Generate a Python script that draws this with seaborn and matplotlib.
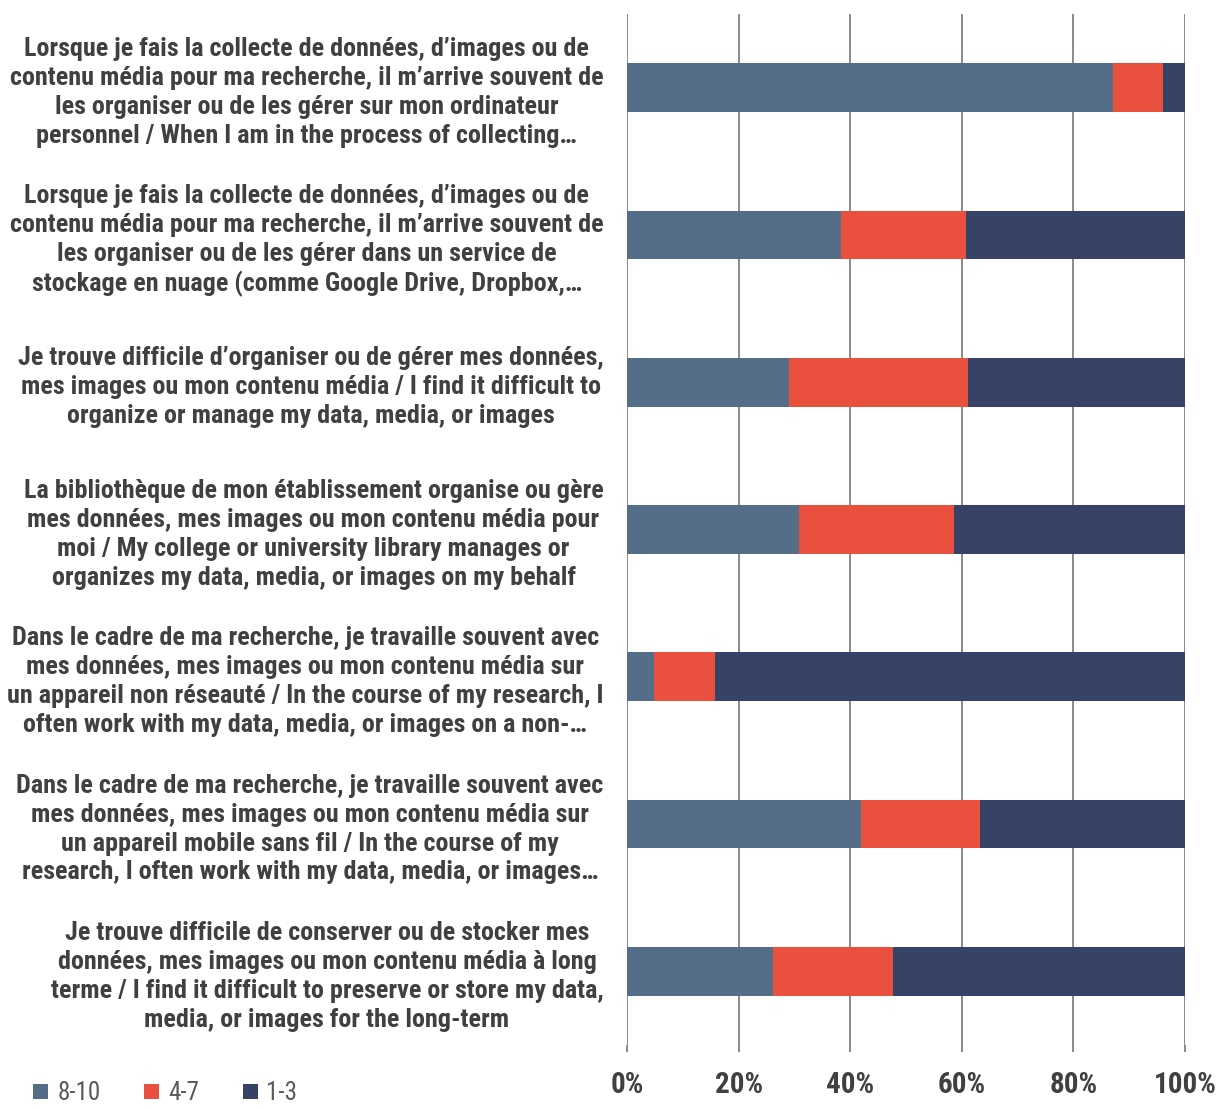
import numpy as np
import pandas as pd
import matplotlib
matplotlib.use("Agg")
import matplotlib.pyplot as plt
import seaborn as sns
from matplotlib.ticker import PercentFormatter
from matplotlib.patches import Patch

# Survey statements (top to bottom)
questions = [
    "Lorsque je fais la collecte de données, d’images ou de\ncontenu média pour ma recherche, il m’arrive souvent de\nles organiser ou de les gérer sur mon ordinateur\npersonnel / When I am in the process of collecting…",
    "Lorsque je fais la collecte de données, d’images ou de\ncontenu média pour ma recherche, il m’arrive souvent de\nles organiser ou de les gérer dans un service de\nstockage en nuage (comme Google Drive, Dropbox,…",
    "Je trouve difficile d’organiser ou de gérer mes données,\nmes images ou mon contenu média / I find it difficult to\norganize or manage my data, media, or images",
    "La bibliothèque de mon établissement organise ou gère\nmes données, mes images ou mon contenu média pour\nmoi / My college or university library manages or\norganizes my data, media, or images on my behalf",
    "Dans le cadre de ma recherche, je travaille souvent avec\nmes données, mes images ou mon contenu média sur\nun appareil non réseauté / In the course of my research, I\noften work with my data, media, or images on a non-…",
    "Dans le cadre de ma recherche, je travaille souvent avec\nmes données, mes images ou mon contenu média sur\nun appareil mobile sans fil / In the course of my\nresearch, I often work with my data, media, or images…",
    "Je trouve difficile de conserver ou de stocker mes\ndonnées, mes images ou mon contenu média à long\nterme / I find it difficult to preserve or store my data,\nmedia, or images for the long-term",
]

# Share of respondents per rating group (%)
high_8_10 = [87.1, 38.4, 29.0, 30.8, 4.8, 41.9, 26.2]
mid_4_7 = [9.0, 22.4, 32.1, 27.8, 11.0, 21.4, 21.5]
low_1_3 = [3.9, 39.2, 38.9, 41.4, 84.2, 36.7, 52.3]

series_names = ["8-10", "4-7", "1-3"]
colors = {"8-10": "#546E8A", "4-7": "#E9503E", "1-3": "#364366"}

df = pd.DataFrame({
    "question": questions,
    "8-10": high_8_10,
    "4-7": mid_4_7,
    "1-3": low_1_3,
})
# cumulative ends for layered (stacked) bars
df["end_8_10"] = df["8-10"]
df["end_4_7"] = df["8-10"] + df["4-7"]
df["end_1_3"] = df["end_4_7"] + df["1-3"]

sns.set_theme(style="white")
plt.rcParams["font.family"] = ["Roboto Condensed", "DejaVu Sans"]

fig = plt.figure(figsize=(12.17, 11.09), dpi=100)
ax = fig.add_axes([0.5152, 0.0577, 0.4585, 0.9297])

# draw from the longest segment down so each shorter one sits on top
for col, name in [("end_1_3", "1-3"), ("end_4_7", "4-7"), ("end_8_10", "8-10")]:
    sns.barplot(data=df, x=col, y="question", color=colors[name], width=0.33,
                orient="h", saturation=1, ax=ax, linewidth=0)

ax.set_xlim(0, 100)
ax.set_ylim(6.5, -0.5)
ax.set_xticks(np.arange(0, 101, 20))
ax.xaxis.set_major_formatter(PercentFormatter(decimals=0))
ax.set_xlabel("")
ax.set_ylabel("")

ax.grid(axis="x", color="#8a8a8a", linewidth=1.4)
ax.grid(axis="y", visible=False)
ax.set_axisbelow(True)
for s in ax.spines.values():
    s.set_visible(False)

ax.tick_params(axis="x", length=5, width=1.4, color="#8a8a8a", pad=14,
               labelsize=21, labelcolor="#404040", bottom=True)
for t in ax.get_xticklabels():
    t.set_fontweight("bold")

ax.tick_params(axis="y", length=0, pad=17, labelsize=18.8, labelcolor="#404040")
for t in ax.get_yticklabels():
    t.set_fontweight("bold")
    t.set_multialignment("center")
    t.set_linespacing(1.26)

handles = [Patch(facecolor=colors[n], edgecolor="none") for n in series_names]
fig.legend(handles, series_names, loc="lower left", bbox_to_anchor=(0.009, -0.017),
           ncol=3, frameon=False, fontsize=18, handlelength=0.6, handleheight=0.6,
           handletextpad=0.35, columnspacing=1.75, labelcolor="#595959")

fig.savefig("out.png", dpi=100)
